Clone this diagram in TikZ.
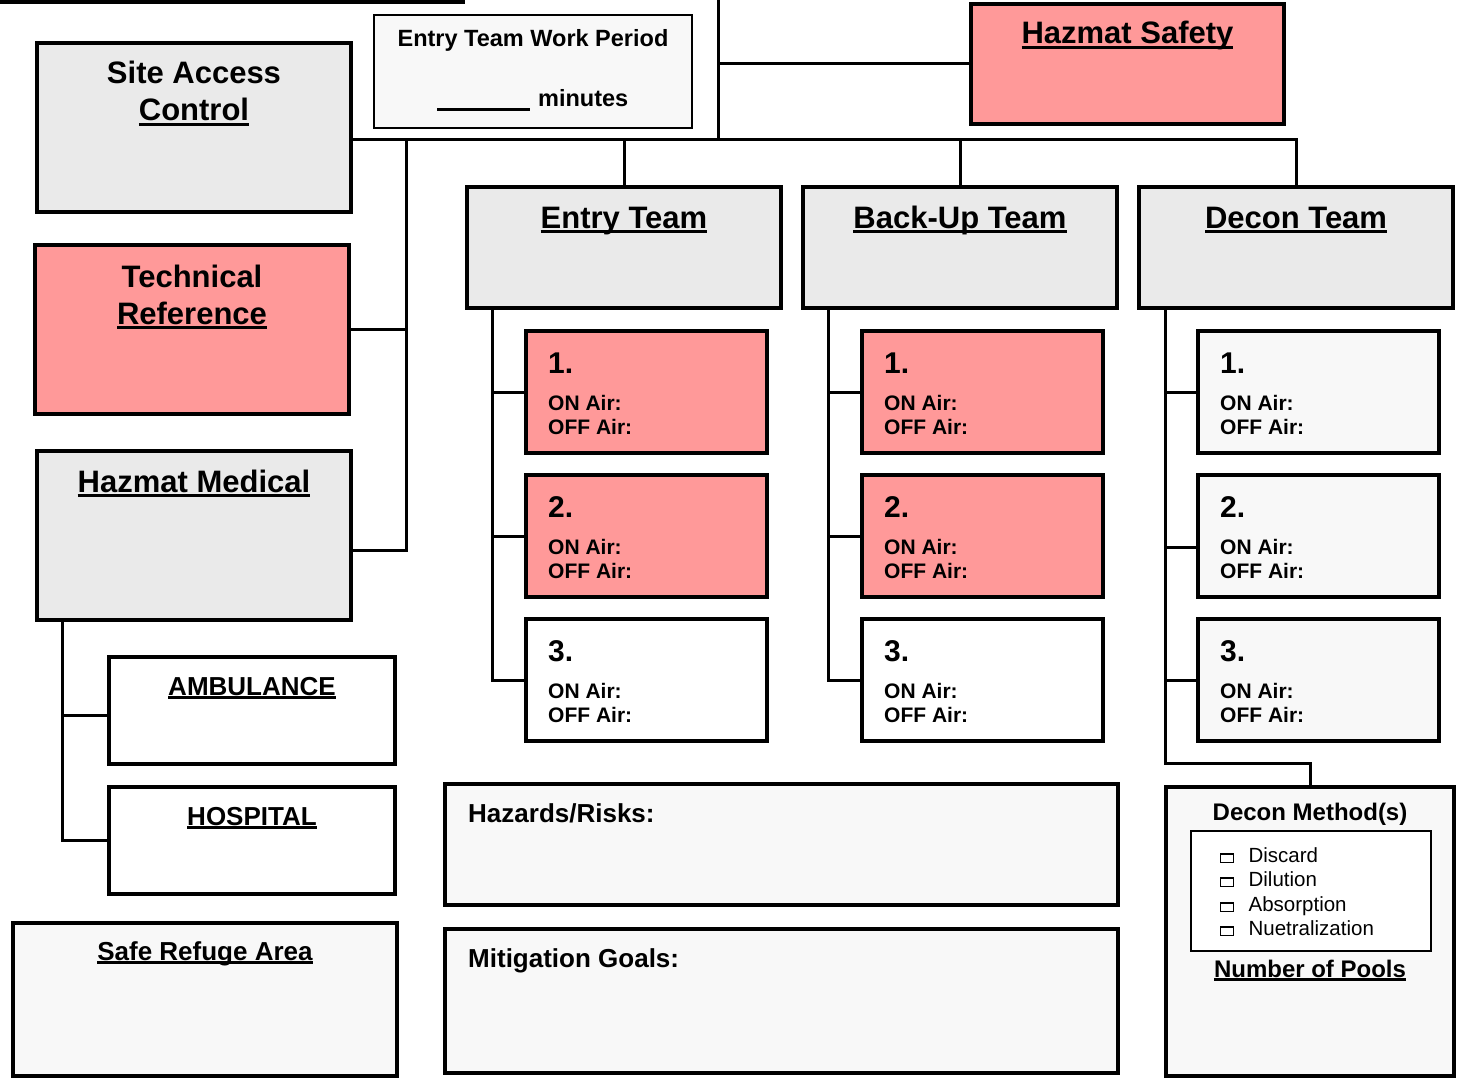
\documentclass[tikz,border=0pt]{standalone}
\usepackage{fontspec}
\setmainfont{Liberation Sans}
\usepackage{xcolor}
\usepackage{tikz}
\usetikzlibrary{positioning}
\definecolor{pinkAlert}{HTML}{FF9999}
\definecolor{greyPanel}{HTML}{EAEAEA}
\definecolor{paleSheet}{HTML}{F8F8F8}
\tikzset{tree-line/.style={line width=3pt}}
\tikzset{panel/.style={draw, line width=3.5pt, inner sep=0, outer sep=0, anchor=north west}}
\tikzset{grey-panel/.style={panel, fill=greyPanel}}
\tikzset{pink-panel/.style={panel, fill=pinkAlert}}
\tikzset{pale-panel/.style={panel, fill=paleSheet}}
\tikzset{white-panel/.style={panel, fill=white}}
\tikzset{big-title/.style={inner sep=0, anchor=base, font=\bfseries\fontsize{31}{37}\selectfont}}
\tikzset{mid-title/.style={inner sep=0, anchor=base, font=\bfseries\fontsize{26}{31}\selectfont}}
\tikzset{field-title/.style={mid-title, anchor=base west}}
\tikzset{work-title/.style={inner sep=0, anchor=base, font=\bfseries\fontsize{23.5}{28}\selectfont}}
\tikzset{small-title/.style={inner sep=0, anchor=base, font=\bfseries\fontsize{24}{29}\selectfont}}
\tikzset{slot-num/.style={inner sep=0, anchor=base west, font=\bfseries\fontsize{30}{36}\selectfont}}
\tikzset{slot-air/.style={inner sep=0, anchor=base west, font=\bfseries\fontsize{21}{24}\selectfont}}
\tikzset{list-item/.style={inner sep=0, anchor=base west, font=\fontsize{20.5}{24}\selectfont}}
\setlength{\fboxsep}{0pt}
\setlength{\fboxrule}{1.2pt}
\newcommand{\ulined}[1]{\sbox0{#1}\rlap{\usebox0}\rule[-0.15em]{\wd0}{0.095em}}
\newcommand{\tickbox}{\fbox{\rule{0pt}{7.5pt}\hspace{11.5pt}}}
\newcommand{\airslot}[5] {
    \node[#4, minimum width=241pt, minimum height=122pt] (#1) at (#2,#3) {};
    \node[slot-num] (#1num) at ([xshift=22pt, yshift=-42pt]#1.north west) {#5.};
    \node[slot-air] (#1on) at ([xshift=22pt, yshift=-79pt]#1.north west) {ON Air:};
    \node[slot-air] (#1off) at ([xshift=22pt, yshift=-103pt]#1.north west) {OFF Air:};
}
\begin{document}
\begin{tikzpicture}[x=1pt, y=-1pt]
    \useasboundingbox (0,0) rectangle (1471,1078);

    % top row
    \node[white-panel, line width=4.5pt, minimum width=520pt, minimum height=110pt] (commandBox) at (-57,-108) {};
    \node[pink-panel, minimum width=313pt, minimum height=120pt] (hazSafety) at (971,4) {};
    \node[pale-panel, line width=2pt, minimum width=318pt, minimum height=113pt] (workPeriod) at (374,15) {};
    \node[grey-panel, minimum width=314pt, minimum height=169pt] (siteAccess) at (37,43) {};

    % left column
    \node[pink-panel, minimum width=314pt, minimum height=169pt] (techRef) at (35,245) {};
    \node[grey-panel, minimum width=314pt, minimum height=169pt] (hazMedical) at (37,451) {};
    \node[white-panel, minimum width=286pt, minimum height=107pt] (ambulance) at (109,657) {};
    \node[white-panel, minimum width=286pt, minimum height=107pt] (hospital) at (109,787) {};
    \node[pale-panel, minimum width=384pt, minimum height=153pt] (safeRefuge) at (13,923) {};

    % teams
    \node[grey-panel, minimum width=314pt, minimum height=121pt] (entryTeam) at (467,187) {};
    \node[grey-panel, minimum width=314pt, minimum height=121pt] (backupTeam) at (803,187) {};
    \node[grey-panel, minimum width=314pt, minimum height=121pt] (deconTeam) at (1139,187) {};

    \airslot{entry1}{526}{331}{pink-panel}{1}
    \airslot{entry2}{526}{475}{pink-panel}{2}
    \airslot{entry3}{526}{619}{white-panel}{3}
    \airslot{backup1}{862}{331}{pink-panel}{1}
    \airslot{backup2}{862}{475}{pink-panel}{2}
    \airslot{backup3}{862}{619}{white-panel}{3}
    \airslot{decon1}{1198}{331}{pale-panel}{1}
    \airslot{decon2}{1198}{475}{pale-panel}{2}
    \airslot{decon3}{1198}{619}{pale-panel}{3}

    % bottom fields
    \node[pale-panel, minimum width=673pt, minimum height=121pt] (hazards) at (445,784) {};
    \node[pale-panel, minimum width=673pt, minimum height=144pt] (mitigation) at (445,929) {};
    \node[pale-panel, minimum width=288pt, minimum height=289pt] (deconMethod) at (1166,787) {};
    \node[white-panel, line width=2pt, minimum width=240pt, minimum height=120pt] (methodList) at (1191,831) {};

    % titles
    \node[big-title] (hazSafetyTitle) at ([yshift=-40pt]hazSafety.north) {\ulined{Hazmat Safety}};
    \node[work-title] (workTitle) at ([yshift=-32pt]workPeriod.north) {Entry Team Work Period};
    \node[work-title, anchor=base west] (workMinutes) at (437,107) {\rule[-4pt]{93pt}{2.5pt}\hspace{8pt}minutes};
    \node[big-title] (siteTitleA) at ([yshift=-41pt]siteAccess.north) {Site Access};
    \node[big-title] (siteTitleB) at ([yshift=-78pt]siteAccess.north) {\ulined{Control}};
    \node[big-title] (techTitleA) at ([yshift=-42pt]techRef.north) {Technical};
    \node[big-title] (techTitleB) at ([yshift=-79pt]techRef.north) {\ulined{Reference}};
    \node[big-title] (medicalTitle) at ([yshift=-41pt]hazMedical.north) {\ulined{Hazmat Medical}};
    \node[mid-title] (ambulanceTitle) at ([yshift=-38pt]ambulance.north) {\ulined{AMBULANCE}};
    \node[mid-title] (hospitalTitle) at ([yshift=-38pt]hospital.north) {\ulined{HOSPITAL}};
    \node[mid-title] (refugeTitle) at ([yshift=-37pt]safeRefuge.north) {\ulined{Safe Refuge Area}};
    \node[big-title] (entryTitle) at ([yshift=-41pt]entryTeam.north) {\ulined{Entry Team}};
    \node[big-title] (backupTitle) at ([yshift=-41pt]backupTeam.north) {\ulined{Back-Up Team}};
    \node[big-title] (deconTitle) at ([yshift=-41pt]deconTeam.north) {\ulined{Decon Team}};
    \node[field-title] (hazardsTitle) at ([xshift=23pt, yshift=-38pt]hazards.north west) {Hazards/Risks:};
    \node[field-title] (mitigationTitle) at ([xshift=23pt, yshift=-38pt]mitigation.north west) {Mitigation Goals:};
    \node[small-title] (methodTitle) at ([yshift=-33pt]deconMethod.north) {Decon Method(s)};
    \node[list-item] (method1) at (1220,862) {\tickbox\hspace{14.5pt}Discard};
    \node[list-item] (method2) at (1220,886) {\tickbox\hspace{14.5pt}Dilution};
    \node[list-item] (method3) at (1220,911) {\tickbox\hspace{14.5pt}Absorption};
    \node[list-item] (method4) at (1220,935) {\tickbox\hspace{14.5pt}Nuetralization};
    \node[small-title] (poolsTitle) at ([yshift=-190pt]deconMethod.north) {\ulined{Number of Pools}};

    % connectors
    \coordinate (trunkTop) at (718,0);
    \coordinate (bus) at (718,140);
    \draw[tree-line] (trunkTop) -- (bus);
    \draw[tree-line] (trunkTop |- hazSafety.west) -- (hazSafety.west);
    \draw[tree-line] (siteAccess.east |- bus) -- (deconTeam.north |- bus) -- (deconTeam.north);
    \draw[tree-line] (entryTeam.north |- bus) -- (entryTeam.north);
    \draw[tree-line] (backupTeam.north |- bus) -- (backupTeam.north);

    \coordinate (leftSpine) at (406,140);
    \draw[tree-line] (leftSpine) |- ([yshift=-15pt]hazMedical.east);
    \draw[tree-line] (leftSpine |- techRef.east) -- (techRef.east);

    \coordinate (medSpine) at ([xshift=25pt]hazMedical.south west);
    \draw[tree-line] (medSpine) |- (hospital.west);
    \draw[tree-line] (medSpine |- ambulance.west) ++(0,5) -- ([yshift=-5pt]ambulance.west);

    \coordinate (entrySpine) at ([xshift=25pt]entryTeam.south west);
    \draw[tree-line] (entrySpine) |- (entry3.west);
    \draw[tree-line] (entrySpine |- entry1.west) -- (entry1.west);
    \draw[tree-line] (entrySpine |- entry2.west) -- (entry2.west);

    \coordinate (backupSpine) at ([xshift=25pt]backupTeam.south west);
    \draw[tree-line] (backupSpine) |- (backup3.west);
    \draw[tree-line] (backupSpine |- backup1.west) -- (backup1.west);
    \draw[tree-line] (backupSpine |- backup2.west) -- (backup2.west);

    \coordinate (deconSpine) at ([xshift=26pt]deconTeam.south west);
    \draw[tree-line] (deconSpine) -- ++(0,455) -| (deconMethod.north);
    \draw[tree-line] (deconSpine |- decon1.west) -- (decon1.west);
    \draw[tree-line] (deconSpine |- decon2.west) ++(0,11) -- ([yshift=-11pt]decon2.west);
    \draw[tree-line] (deconSpine |- decon3.west) -- (decon3.west);
\end{tikzpicture}
\end{document}
